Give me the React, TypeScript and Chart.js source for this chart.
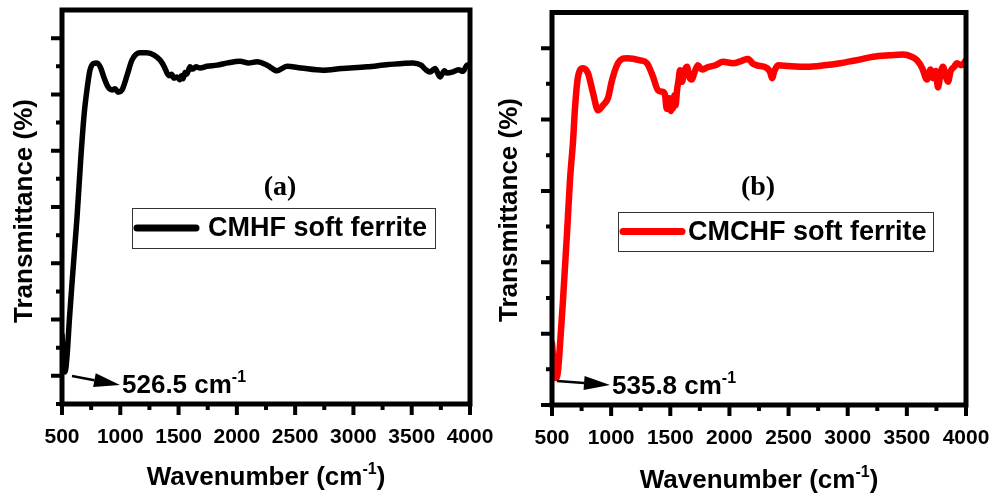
import React, { useEffect, useRef } from 'react';
import { Chart, registerables } from 'chart.js';

Chart.register(...registerables);

// ---------- data ----------
const xMajorTicks = [500, 1000, 1500, 2000, 2500, 3000, 3500, 4000];
const xMinorTicks = [750, 1250, 1750, 2250, 2750, 3250, 3750];

const yMajorA = [5, 15, 25, 35, 45, 55, 65];
const yMinorA = [0, 10, 20, 30, 40, 50, 60];
const yMajorB = [0, 10, 20, 30, 40, 50];
const yMinorB = [5, 15, 25, 35, 45];

const wavenumberA = [500, 510, 526.5, 543, 565, 586, 608, 629, 663, 690, 714, 740, 770, 800, 830, 860, 895, 929, 955, 980, 1015, 1060, 1100, 1169, 1229, 1290, 1341, 1380, 1401, 1420, 1440, 1460, 1487, 1510, 1525, 1538, 1555, 1570, 1598, 1620, 1650, 1684, 1744, 1830, 1920, 2027, 2100, 2173, 2260, 2344, 2430, 2550, 2739, 2900, 3116, 3300, 3511, 3580, 3620, 3657, 3700, 3743, 3780, 3800, 3854, 3900, 3940, 3974, 4000];
const transmittanceA = [12.3, 9.0, 5.7, 8.5, 15.5, 21.5, 27.5, 33.2, 44.2, 51.5, 55.8, 59.3, 60.5, 60.6, 59.8, 58.0, 56.3, 55.8, 56.0, 55.4, 55.8, 58.5, 61.1, 62.4, 62.4, 62.0, 61.1, 59.8, 58.8, 58.3, 58.6, 57.9, 58.1, 57.6, 58.3, 57.8, 58.9, 58.6, 59.9, 59.5, 59.9, 59.7, 60.0, 60.2, 60.6, 60.9, 60.6, 60.8, 60.2, 59.2, 60.0, 59.7, 59.3, 59.6, 59.9, 60.3, 60.6, 60.2, 59.4, 59.0, 59.6, 58.1, 59.2, 58.8, 59.0, 59.4, 59.1, 60.2, 60.3];

const wavenumberB = [500, 508, 520, 536, 552, 568, 593, 627, 652, 678, 694, 720, 762, 804, 847, 889, 931, 973, 1007, 1058, 1134, 1246, 1303, 1354, 1396, 1430, 1455, 1470, 1481, 1492, 1505, 1515, 1523, 1535, 1545, 1557, 1570, 1582, 1600, 1615, 1641, 1660, 1680, 1709, 1734, 1770, 1810, 1880, 1946, 2030, 2100, 2157, 2200, 2233, 2318, 2345, 2360, 2380, 2411, 2500, 2656, 2800, 2935, 3100, 3214, 3350, 3467, 3540, 3586, 3630, 3670, 3700, 3720, 3745, 3763, 3785, 3805, 3830, 3848, 3870, 3900, 3924, 3960, 4000];
const transmittanceB = [8.7, 7.0, 4.8, 3.8, 5.0, 8.5, 14.7, 24.1, 31.5, 37.0, 41.5, 46.0, 47.2, 46.5, 43.7, 41.3, 42.0, 43.0, 45.5, 47.9, 48.6, 48.3, 47.9, 46.0, 44.1, 43.9, 43.5, 41.5, 41.8, 43.0, 41.2, 42.6, 41.6, 43.4, 42.0, 44.1, 45.5, 46.9, 45.3, 46.6, 47.4, 46.0, 45.6, 46.8, 47.6, 47.0, 47.3, 47.6, 48.1, 47.9, 48.2, 48.5, 47.8, 47.6, 47.2, 46.6, 45.8, 46.8, 47.6, 47.5, 47.4, 47.6, 47.9, 48.4, 48.8, 49.0, 49.1, 48.8, 48.3, 47.2, 45.6, 47.0, 45.8, 46.8, 44.5, 46.5, 47.4, 46.0, 45.3, 46.8, 47.4, 47.9, 47.6, 48.3];

const FONT = '"Liberation Sans", Arial, sans-serif';
const SERIF = '"Liberation Serif", "Times New Roman", serif';

type Part = { text: string; sup?: boolean };

function partsWidth(ctx: CanvasRenderingContext2D, parts: Part[], size: number, supSize: number) {
  let w = 0;
  for (const p of parts) {
    ctx.font = `bold ${p.sup ? supSize : size}px ${FONT}`;
    w += ctx.measureText(p.text).width;
  }
  return w;
}

function drawParts(ctx: CanvasRenderingContext2D, parts: Part[], x: number, baseline: number, size: number, supSize: number) {
  let cx = x;
  ctx.textAlign = 'left';
  ctx.textBaseline = 'alphabetic';
  for (const p of parts) {
    ctx.font = `bold ${p.sup ? supSize : size}px ${FONT}`;
    ctx.fillText(p.text, cx, p.sup ? baseline - size * 0.42 : baseline);
    cx += ctx.measureText(p.text).width;
  }
}

type PanelSpec = {
  yMin: number;
  yMax: number;
  yMajor: number[];
  yMinor: number[];
  color: string;
  panelLabel: string;
  labelPos: [number, number];
  legendText: string;
  legendBox: [number, number, number, number];
  legendTextOffset: number;
  peakText: string;
  arrowFrom: [number, number];
  arrowTo: [number, number];
  textBaseline: number;
  xTitleCenter: number;
  xTitleBaseline: number;
  yTitlePos: [number, number];
};

function decorPlugin(p: PanelSpec) {
  return {
    id: 'decor',
    afterDraw(chart: any) {
      const ctx: CanvasRenderingContext2D = chart.ctx;
      const { left, right, top, bottom } = chart.chartArea;
      const xs = chart.scales.x;
      const ys = chart.scales.y;
      ctx.save();
      ctx.strokeStyle = '#000';
      ctx.fillStyle = '#000';
      // frame
      ctx.lineWidth = 5;
      ctx.strokeRect(left, top, right - left, bottom - top);
      // ticks
      ctx.lineWidth = 4;
      ctx.beginPath();
      for (const v of xMajorTicks) {
        const px = xs.getPixelForValue(v);
        ctx.moveTo(px, bottom);
        ctx.lineTo(px, bottom + 11);
      }
      for (const v of xMinorTicks) {
        const px = xs.getPixelForValue(v);
        ctx.moveTo(px, bottom);
        ctx.lineTo(px, bottom + 6);
      }
      for (const v of p.yMajor) {
        const py = ys.getPixelForValue(v);
        ctx.moveTo(left, py);
        ctx.lineTo(left - 11, py);
      }
      for (const v of p.yMinor) {
        const py = ys.getPixelForValue(v);
        ctx.moveTo(left, py);
        ctx.lineTo(left - 6, py);
      }
      ctx.stroke();

      // panel label
      ctx.font = `bold 28px ${SERIF}`;
      ctx.textAlign = 'center';
      ctx.textBaseline = 'middle';
      ctx.fillText(p.panelLabel, p.labelPos[0], p.labelPos[1]);

      // legend
      const [bx, by, bw, bh] = p.legendBox;
      ctx.lineWidth = 1;
      ctx.strokeStyle = '#333';
      ctx.strokeRect(bx + 0.5, by + 0.5, bw, bh);
      const ly = by + bh / 2;
      ctx.strokeStyle = p.color;
      ctx.lineWidth = 7;
      ctx.lineCap = 'round';
      ctx.beginPath();
      ctx.moveTo(bx + 5, ly);
      ctx.lineTo(bx + 64, ly);
      ctx.stroke();
      ctx.lineCap = 'butt';
      ctx.fillStyle = '#000';
      ctx.font = `bold 27px ${FONT}`;
      ctx.textAlign = 'left';
      ctx.textBaseline = 'middle';
      ctx.fillText(p.legendText, bx + p.legendTextOffset, ly + 1);

      // arrow annotation
      const [ax, ay] = p.arrowFrom;
      const [tx, ty] = p.arrowTo;
      const ang = Math.atan2(ty - ay, tx - ax);
      const headLen = 26;
      const headW = 7;
      const hx = tx - headLen * Math.cos(ang);
      const hy = ty - headLen * Math.sin(ang);
      ctx.strokeStyle = '#000';
      ctx.lineWidth = 2.5;
      ctx.beginPath();
      ctx.moveTo(ax, ay);
      ctx.lineTo(hx, hy);
      ctx.stroke();
      ctx.beginPath();
      ctx.moveTo(tx, ty);
      ctx.lineTo(hx + headW * Math.sin(ang), hy - headW * Math.cos(ang));
      ctx.lineTo(hx - headW * Math.sin(ang), hy + headW * Math.cos(ang));
      ctx.closePath();
      ctx.fill();
      drawParts(ctx, [{ text: p.peakText }, { text: '-1', sup: true }], tx + 2, p.textBaseline, 26, 16);

      // x title
      const xParts: Part[] = [{ text: 'Wavenumber (cm' }, { text: '-1', sup: true }, { text: ')' }];
      const w = partsWidth(ctx, xParts, 26, 16);
      drawParts(ctx, xParts, p.xTitleCenter - w / 2, p.xTitleBaseline, 26, 16);

      // y title
      ctx.save();
      ctx.translate(p.yTitlePos[0], p.yTitlePos[1]);
      ctx.rotate(-Math.PI / 2);
      ctx.font = `bold 26px ${FONT}`;
      ctx.textAlign = 'center';
      ctx.textBaseline = 'middle';
      ctx.fillText('Transmittance (%)', 0, 0);
      ctx.restore();

      ctx.restore();
    },
  };
}

function buildChart(
  canvas: HTMLCanvasElement,
  xsData: number[],
  ysData: number[],
  spec: PanelSpec,
  lineWidth: number,
  padTop: number,
  padRight: number,
  xAxisHeight: number
) {
  const data = xsData.map((x, i) => ({ x, y: ysData[i] }));
  return new Chart(canvas, {
    type: 'line',
    data: {
      datasets: [
        {
          data,
          borderColor: spec.color,
          borderWidth: lineWidth,
          pointRadius: 0,
          cubicInterpolationMode: 'monotone',
          borderJoinStyle: 'round',
          borderCapStyle: 'round',
          fill: false,
        },
      ],
    },
    options: {
      animation: false,
      responsive: false,
      events: [],
      layout: { padding: { top: padTop, right: padRight, bottom: 0, left: 0 } },
      plugins: { legend: { display: false }, tooltip: { enabled: false } },
      scales: {
        x: {
          type: 'linear',
          min: 500,
          max: 4000,
          grid: { display: false },
          border: { display: false },
          ticks: {
            stepSize: 500,
            autoSkip: false,
            maxRotation: 0,
            color: '#000',
            padding: 13,
            font: { family: FONT, size: 21, weight: 'bold' },
            callback: (v: any) => String(v),
          },
          afterFit: (s: any) => {
            s.height = xAxisHeight;
            s.paddingLeft = 0;
            s.paddingRight = 0;
          },
        },
        y: {
          type: 'linear',
          min: spec.yMin,
          max: spec.yMax,
          grid: { display: false },
          border: { display: false },
          ticks: { display: false },
          afterFit: (s: any) => {
            s.width = 62;
          },
        },
      },
    } as any,
    plugins: [decorPlugin(spec)],
  });
}

const specA: PanelSpec = {
  yMin: 0,
  yMax: 70,
  yMajor: yMajorA,
  yMinor: yMinorA,
  color: '#000000',
  panelLabel: '(a)',
  labelPos: [280, 188],
  legendText: 'CMHF soft ferrite',
  legendBox: [132, 208, 303, 40],
  legendTextOffset: 76,
  peakText: '526.5 cm',
  arrowFrom: [72, 376],
  arrowTo: [120, 385],
  textBaseline: 393,
  xTitleCenter: 266,
  xTitleBaseline: 485,
  yTitlePos: [25, 211],
};

const specB: PanelSpec = {
  yMin: 0,
  yMax: 55,
  yMajor: yMajorB,
  yMinor: yMinorB,
  color: '#ff0000',
  panelLabel: '(b)',
  labelPos: [268, 188],
  legendText: 'CMCHF soft ferrite',
  legendBox: [128, 212, 315, 39],
  legendTextOffset: 70,
  peakText: '535.8 cm',
  arrowFrom: [67, 381],
  arrowTo: [120, 385],
  textBaseline: 394,
  xTitleCenter: 269,
  xTitleBaseline: 488,
  yTitlePos: [20, 210],
};

export default function App() {
  const refA = useRef<HTMLCanvasElement | null>(null);
  const refB = useRef<HTMLCanvasElement | null>(null);

  useEffect(() => {
    if (!refA.current || !refB.current) return;
    const a = buildChart(refA.current, wavenumberA, transmittanceA, specA, 5.5, 10, 30, 93);
    const b = buildChart(refB.current, wavenumberB, transmittanceB, specB, 6.5, 12.5, 29, 92);
    return () => {
      a.destroy();
      b.destroy();
    };
  }, []);

  return (
    <div style={{ position: 'absolute', left: 0, top: 0, width: 995, height: 497, background: '#fff', overflow: 'hidden' }}>
      <canvas ref={refA} width={500} height={497} style={{ position: 'absolute', left: 0, top: 0, width: 500, height: 497 }} />
      <canvas ref={refB} width={505} height={497} style={{ position: 'absolute', left: 490, top: 0, width: 505, height: 497 }} />
    </div>
  );
}
